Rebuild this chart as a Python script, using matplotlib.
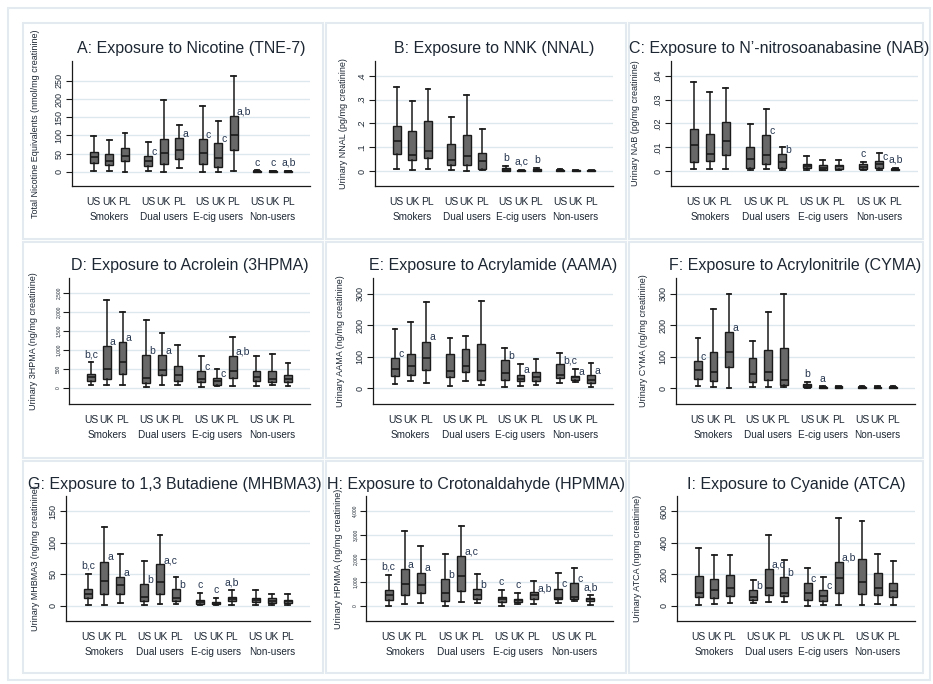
import matplotlib
matplotlib.use("Agg")
import matplotlib.pyplot as plt
from matplotlib.patches import Rectangle
from matplotlib.transforms import blended_transform_factory

plt.rcParams["font.family"] = ["Liberation Sans", "DejaVu Sans"]

GROUPS = ["Smokers", "Dual users", "E-cig users", "Non-users"]
COUNTRIES = ["US", "UK", "PL"]

# (lower whisker, q1, median, q3, upper whisker), US/UK/PL within each group
tne7 = [(1, 24, 40, 54, 98), (1, 19, 31, 49, 88), (0, 30, 44, 65, 107),
        (1, 15, 29, 43, 83), (0, 22, 51, 91, 198), (10, 35, 59, 93, 130),
        (0, 21, 53, 89, 181), (0, 14, 37, 80, 141), (1, 59, 101, 154, 263),
        (0, 0.5, 1, 2.5, 4), (0, 0.5, 1, 2, 3.5), (0, 0.5, 1, 2, 3.5)]
nnal = [(.007, .072, .125, .191, .354), (.004, .048, .069, .167, .296), (.007, .055, .086, .212, .345),
        (.004, .024, .046, .115, .229), (.001, .024, .065, .150, .321), (.004, .010, .041, .076, .175),
        (0, .002, .005, .011, .022), (0, .001, .002, .004, .006), (0, .002, .004, .009, .013),
        (0, .002, .003, .005, .007), (0, .001, .002, .004, .006), (0, .001, .002, .004, .006)]
nab = [(.0007, .0036, .0109, .0178, .0376), (.0008, .0041, .0070, .0156, .0333), (.0010, .0066, .0125, .0206, .0348),
       (.0006, .0014, .0052, .0101, .0198), (.0007, .0029, .0069, .0150, .0260), (.0006, .0014, .0036, .0073, .0100),
       (.0006, .0011, .0022, .0031, .0065), (.0003, .0006, .0014, .0025, .0046), (.0006, .0010, .0020, .0027, .0045),
       (.0006, .0010, .0018, .0028, .0039), (.0006, .0011, .0029, .0042, .0074), (.0003, .0004, .0007, .0010, .0014)]
hpma3 = [(79, 175, 281, 377, 684), (70, 246, 500, 1114, 2325), (70, 368, 675, 1202, 1991),
         (26, 123, 254, 868, 1781), (70, 342, 465, 877, 1439), (88, 175, 333, 570, 1123),
         (26, 167, 237, 447, 851), (44, 79, 193, 263, 509), (61, 263, 439, 842, 1351),
         (61, 193, 290, 447, 851), (70, 158, 228, 456, 886), (44, 158, 237, 342, 667)]
aama = [(13, 37, 60, 95, 187), (22, 43, 69, 110, 211), (15, 58, 95, 148, 276),
        (8, 34, 54, 109, 158), (22, 50, 69, 126, 165), (11, 27, 54, 140, 278),
        (3, 25, 48, 88, 128), (8, 21, 30, 43, 76), (11, 22, 36, 52, 94),
        (15, 31, 41, 76, 112), (19, 24, 34, 39, 60), (4, 17, 24, 41, 79)]
cyma = [(7, 29, 56, 87, 160), (3, 23, 50, 116, 252), (1, 66, 115, 179, 301),
        (2, 18, 46, 96, 149), (2, 26, 52, 121, 241), (2, 9, 24, 128, 299),
        (0, 2, 5, 12, 19), (0, 1, 2, 3, 5), (0, 1, 3, 5, 7),
        (0, 1, 2, 3, 5), (0, 1, 2, 3, 5), (0, 1, 2, 3, 5)]
mhbma3 = [(1, 12, 18, 27, 51), (1, 18, 39, 70, 125), (5, 18, 33, 45, 82),
          (2, 8, 14, 35, 71), (3, 18, 38, 66, 112), (3, 8, 13, 26, 45),
          (1, 3, 6, 10, 21), (1, 3, 4, 6, 13), (2, 7, 11, 14, 25),
          (2, 6, 10, 13, 25), (2, 5, 8, 12, 18), (1, 5, 7, 10, 18)]
hpmma = [(14, 268, 451, 676, 1324), (85, 479, 944, 1549, 3141), (113, 563, 901, 1408, 2535),
         (14, 211, 535, 1127, 2197), (155, 620, 1268, 2113, 3380), (113, 282, 451, 718, 1352),
         (14, 183, 282, 380, 662), (85, 155, 239, 296, 549), (70, 296, 451, 577, 1070),
         (127, 310, 352, 732, 1394), (197, 282, 380, 958, 1592), (28, 197, 282, 324, 465)]
atca = [(9, 55, 85, 189, 366), (15, 53, 102, 170, 321), (17, 66, 111, 196, 323),
        (17, 38, 55, 102, 166), (26, 68, 113, 234, 449), (23, 60, 85, 185, 291),
        (2, 38, 79, 143, 238), (6, 30, 60, 100, 183), (4, 83, 179, 281, 557),
        (6, 74, 151, 296, 540), (13, 72, 111, 211, 328), (4, 57, 94, 147, 285)]

# significance letters: (box index, text, "r" = right of box top / "t" = above whisker)
tne7_letters = [(3, "c", "r"), (5, "a", "r"), (6, "c", "r"), (7, "c", "r"), (8, "a,b", "r"),
                (9, "c", "t"), (10, "c", "t"), (11, "a,b", "t")]
nnal_letters = [(6, "b", "t"), (7, "a,c", "t"), (8, "b", "t")]
nab_letters = [(4, "c", "r"), (5, "b", "r"), (9, "c", "t"), (10, "c", "r"), (11, "a,b", "t")]
hpma3_letters = [(0, "b,c", "t"), (1, "a", "r"), (2, "a", "r"), (3, "b", "r"), (4, "a", "r"),
                 (6, "c", "r"), (7, "c", "r"), (8, "a,b", "r")]
aama_letters = [(0, "c", "r"), (2, "a", "r"), (6, "b", "r"), (7, "a", "r"), (9, "b,c", "r"),
                (10, "a", "r"), (11, "a", "r")]
cyma_letters = [(0, "c", "r"), (2, "a", "r"), (6, "b", "t"), (7, "a", "t")]
mhbma3_letters = [(0, "b,c", "t"), (1, "a", "r"), (2, "a", "r"), (3, "b", "r"), (4, "a,c", "r"),
                  (5, "b", "r"), (6, "c", "t"), (7, "c", "t"), (8, "a,b", "t")]
hpmma_letters = [(0, "b,c", "t"), (1, "a", "r"), (2, "a", "r"), (3, "b", "r"), (4, "a,c", "r"),
                 (5, "b", "r"), (6, "c", "t"), (7, "c", "t"), (8, "a,b", "r"), (9, "c", "r"),
                 (10, "c", "r"), (11, "a,b", "t")]
atca_letters = [(3, "b", "r"), (4, "a,c", "r"), (5, "b", "r"), (6, "c", "r"), (7, "c", "r"),
                (8, "a,b", "r")]

panels = [
    ("A: Exposure to Nicotine (TNE-7)", "Total Nicotine Equivalents (nmol/mg creatinine)",
     tne7, tne7_letters, [0, 50, 100, 150, 200, 250], ["0", "50", "100", "150", "200", "250"]),
    ("B: Exposure to NNK (NNAL)", "Urinary NNAL (pg/mg creatinine)",
     nnal, nnal_letters, [0, .1, .2, .3, .4], ["0", ".1", ".2", ".3", ".4"]),
    ("C: Exposure to N\u2019-nitrosoanabasine (NAB)", "Urinary NAB (pg/mg creatinine)",
     nab, nab_letters, [0, .01, .02, .03, .04], ["0", ".01", ".02", ".03", ".04"]),
    ("D: Exposure to Acrolein (3HPMA)", "Urinary 3HPMA (ng/mg creatinine)",
     hpma3, hpma3_letters, [0, 500, 1000, 1500, 2000, 2500], ["0", "500", "1,000", "1,500", "2,000", "2,500"]),
    ("E: Exposure to Acrylamide (AAMA)", "Urinary AAMA (ng/mg creatinine)",
     aama, aama_letters, [0, 100, 200, 300], ["0", "100", "200", "300"]),
    ("F: Exposure to Acrylonitrile (CYMA)", "Urinary CYMA (ng/mg creatinine)",
     cyma, cyma_letters, [0, 100, 200, 300], ["0", "100", "200", "300"]),
    ("G: Exposure to 1,3 Butadiene (MHBMA3)", "Urinary MHBMA3 (ng/mg creatinine)",
     mhbma3, mhbma3_letters, [0, 50, 100, 150], ["0", "50", "100", "150"]),
    ("H: Exposure to Crotonaldahyde (HPMMA)", "Urinary HPMMA (ng/mg creatinine)",
     hpmma, hpmma_letters, [0, 1000, 2000, 3000, 4000], ["0", "1,000", "2,000", "3,000", "4,000"]),
    ("I: Exposure to Cyanide (ATCA)", "Urinary ATCA (ngmg creatinine)",
     atca, atca_letters, [0, 200, 400, 600], ["0", "200", "400", "600"]),
]

# layout in pixels
W, H = 933, 684
AX_PX = [(72, 61, 310, 186), (375, 61, 613, 186), (671, 61, 918, 186),
         (69, 278, 310, 404), (373, 278, 613, 404), (676, 278, 915, 404),
         (66, 496, 310, 621), (366, 496, 613, 621), (677, 496, 915, 621)]
YLIMS = [(-39, 305), (-.063, .463), (-.0063, .0463),
         (-421, 2895), (-51, 351), (-51, 351),
         (-24, 174), (-632, 4632), (-95, 695)]
YLAB_OFF = [32, 27, 31, 31, 28, 28, 26, 23, 35]
COL_FR = [(23, 323), (326, 626), (629, 923)]
ROW_FR = [(23, 239), (242, 458), (461, 673)]
TITLE_RIGHT = [322, 625, 929]

BOX_FACE = "#686868"
INK = "#1a1a1a"
GRID = "#dde8ee"
FRAME = "#e3ebf0"
TXT = "#1d2733"
LETTER = "#26364f"

fig = plt.figure(figsize=(W / 100, H / 100), dpi=100)
fig.patch.set_facecolor("white")

# outer and panel frames
fig.add_artist(Rectangle((8 / W, 1 - 680 / H), (930 - 8) / W, (680 - 8) / H,
                         transform=fig.transFigure, fill=False, ec=FRAME, lw=1.5))
for (t, b) in ROW_FR:
    for (l, r) in COL_FR:
        fig.add_artist(Rectangle((l / W, 1 - b / H), (r - l) / W, (b - t) / H,
                                 transform=fig.transFigure, fill=False, ec=FRAME, lw=1.5))

positions = [g * 3.5 + i for g in range(4) for i in range(3)]
centers = [g * 3.5 + 1 for g in range(4)]

titles = []
for k, (title, ylabel, data, letters, yt, ytl) in enumerate(panels):
    l, t, r, b = AX_PX[k]
    ax = fig.add_axes([l / W, 1 - b / H, (r - l) / W, (b - t) / H])
    stats = [{"whislo": s[0], "q1": s[1], "med": s[2], "q3": s[3], "whishi": s[4]} for s in data]
    ax.bxp(stats, positions=positions, widths=0.5, capwidths=0.3, showfliers=False,
           patch_artist=True,
           boxprops=dict(facecolor=BOX_FACE, edgecolor=INK, linewidth=1.0),
           medianprops=dict(color=INK, linewidth=1.2),
           whiskerprops=dict(color=INK, linewidth=1.1),
           capprops=dict(color=INK, linewidth=1.3))
    ax.set_xlim(-1.4, 13.9)
    ax.set_ylim(*YLIMS[k])
    ax.set_yticks(yt)
    small = k in (3, 7)
    ax.set_yticklabels(ytl, rotation=90, va="center", fontsize=3.5 if small else 6.5, color=TXT)
    ax.tick_params(axis="y", length=4, width=0.8, color=INK, pad=2)
    ax.set_xticks(positions)
    ax.set_xticklabels(COUNTRIES * 4, fontsize=7.5, color=TXT)
    ax.tick_params(axis="x", length=0, pad=8)
    ax.grid(axis="y", color=GRID, linewidth=1.0)
    ax.set_axisbelow(True)
    for side in ("top", "right"):
        ax.spines[side].set_visible(False)
    for side in ("left", "bottom"):
        ax.spines[side].set_color(INK)
        ax.spines[side].set_linewidth(0.9)
    ax.set_ylabel(ylabel, fontsize=6.5, color=TXT)
    ax.yaxis.set_label_coords(-YLAB_OFF[k] / (r - l), 0.5)

    tr = blended_transform_factory(ax.transData, ax.transAxes)
    for c, name in zip(centers, GROUPS):
        ax.annotate(name, xy=(c, 0), xycoords=tr, xytext=(0, -22), textcoords="offset points",
                    ha="center", va="center", fontsize=7.2, color=TXT)

    for idx, txt, mode in letters:
        lo, q1, med, q3, hi = data[idx]
        if mode == "r":
            ax.annotate(txt, xy=(positions[idx] + 0.2, q3), xytext=(0, 3), textcoords="offset points",
                        ha="left", va="center", fontsize=7.5, color=LETTER)
        else:
            ax.annotate(txt, xy=(positions[idx], hi), xytext=(0, 2), textcoords="offset points",
                        ha="center", va="bottom", fontsize=7.5, color=LETTER)

    tx = (l + r) / 2
    titles.append(fig.text(tx / W, 1 - (t - 12) / H, title, ha="center", va="center",
                           fontsize=11.5, color=TXT))

# keep titles inside the figure area of their column
fig.canvas.draw()
renderer = fig.canvas.get_renderer()
for k, txt in enumerate(titles):
    bb = txt.get_window_extent(renderer)
    right_lim = TITLE_RIGHT[k % 3]
    if bb.x1 > right_lim:
        x0, y0 = txt.get_position()
        txt.set_position((x0 - (bb.x1 - right_lim) / W, y0))

fig.savefig("out.png", dpi=100)
